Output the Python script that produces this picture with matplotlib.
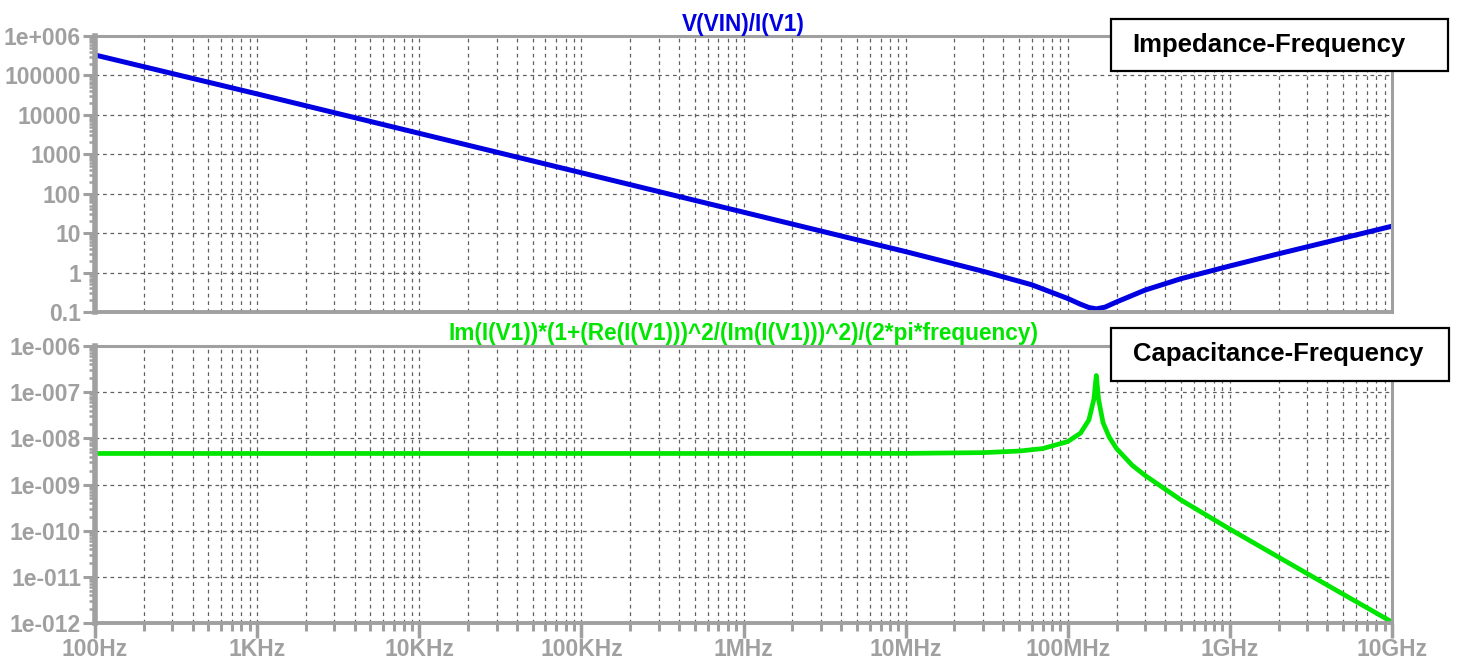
import matplotlib
matplotlib.use("Agg")
import matplotlib.pyplot as plt
from matplotlib.patches import Rectangle
from matplotlib.ticker import FixedLocator, NullFormatter
import numpy as np

# frequency axis (Hz)
x_ticks = [1e2, 1e3, 1e4, 1e5, 1e6, 1e7, 1e8, 1e9, 1e10]
x_labels = ['100Hz', '1KHz', '10KHz', '100KHz', '1MHz', '10MHz', '100MHz', '1GHz', '10GHz']

# top panel: V(VIN)/I(V1)
z_freq = [1e2, 1e3, 1e4, 1e5, 1e6, 1e7, 3e7, 6e7, 1e8, 1.2e8, 1.35e8, 1.5e8,
          1.7e8, 2e8, 3e8, 5e8, 1e9, 2e9, 5e9, 1e10]
z_vals = [3.3e5, 3.4e4, 3.4e3, 340, 34, 3.4, 1.08, 0.49, 0.22, 0.157, 0.13, 0.12,
          0.133, 0.18, 0.36, 0.70, 1.47, 3.0, 7.5, 15]
z_ticks = [0.1, 1, 10, 100, 1000, 1e4, 1e5, 1e6]
z_labels = ['0.1', '1', '10', '100', '1000', '10000', '100000', '1e+006']

# bottom panel: effective capacitance
c_freq = [1e2, 1e3, 1e4, 1e5, 1e6, 1e7, 3e7, 5e7, 7e7, 1e8, 1.2e8, 1.35e8, 1.45e8,
          1.5e8, 1.55e8, 1.65e8, 1.8e8, 2e8, 2.5e8, 3e8, 5e8, 1e9, 2e9, 5e9, 1e10]
c_vals = [4.7e-9, 4.7e-9, 4.7e-9, 4.7e-9, 4.7e-9, 4.72e-9, 4.9e-9, 5.3e-9, 6.0e-9,
          8.5e-9, 1.3e-8, 2.5e-8, 7.1e-8, 2.3e-7, 6.9e-8, 2.2e-8, 1.07e-8, 6e-9,
          2.6e-9, 1.57e-9, 4.6e-10, 1.08e-10, 2.66e-11, 4.2e-12, 1.05e-12]
c_ticks = [1e-12, 1e-11, 1e-10, 1e-9, 1e-8, 1e-7, 1e-6]
c_labels = ['1e-012', '1e-011', '1e-010', '1e-009', '1e-008', '1e-007', '1e-006']

GRAY = '#a0a0a0'
GRID = '#606060'
W, H = 1458, 664

fig = plt.figure(figsize=(W / 100, H / 100), dpi=100)
plt.rcParams['font.family'] = ['Liberation Sans', 'DejaVu Sans']


def box(px0, py0, px1, py1):
    return [px0 / W, 1 - py1 / H, (px1 - px0) / W, (py1 - py0) / H]


def style(ax, yticks, ylabels, show_x):
    ax.set_xscale('log')
    ax.set_yscale('log')
    ax.set_xlim(1e2, 1e10)
    ax.set_ylim(yticks[0], yticks[-1])
    for s in ax.spines.values():
        s.set_color(GRAY)
        s.set_linewidth(2.2)
    ax.spines['left'].set_linewidth(4.0)
    ax.spines['bottom'].set_linewidth(2.8)
    ax.yaxis.set_major_locator(FixedLocator(yticks))
    ax.set_yticklabels(ylabels)
    ax.yaxis.set_minor_locator(matplotlib.ticker.LogLocator(base=10, subs=np.arange(2, 10)))
    ax.yaxis.set_minor_formatter(NullFormatter())
    ax.xaxis.set_major_locator(FixedLocator(x_ticks))
    ax.xaxis.set_minor_locator(matplotlib.ticker.LogLocator(base=10, subs=np.arange(2, 10), numticks=20))
    ax.xaxis.set_minor_formatter(NullFormatter())
    ax.tick_params(axis='y', which='major', direction='out', length=9, width=2.2,
                   color=GRAY, labelcolor=GRAY, labelsize=16.5, pad=1)
    ax.tick_params(axis='y', which='minor', direction='out', length=4, width=1.8, color=GRAY)
    if show_x:
        ax.set_xticklabels(x_labels)
        ax.tick_params(axis='x', which='major', direction='out', length=11, width=2.5,
                       color=GRAY, labelcolor=GRAY, labelsize=16.5, pad=0)
        ax.tick_params(axis='x', which='minor', direction='out', length=6, width=2.2, color=GRAY)
    else:
        ax.tick_params(axis='x', which='both', length=0, labelbottom=False)
    for lab in ax.get_yticklabels() + ax.get_xticklabels():
        lab.set_fontweight('bold')
    ax.grid(True, which='major', axis='both', color=GRID, linestyle=(0, (3, 3)), linewidth=0.9)
    ax.grid(True, which='minor', axis='x', color=GRID, linestyle=(0, (3, 3)), linewidth=0.9)
    ax.set_axisbelow(True)


ax1 = fig.add_axes(box(95, 36, 1392, 312))
ax1.plot(z_freq, z_vals, color='#0000e0', linewidth=3.6, solid_capstyle='round')
style(ax1, z_ticks, z_labels, False)
ax1.set_title('V(VIN)/I(V1)', color='#0000e0', fontsize=16.3, fontweight='bold', pad=2)

ax2 = fig.add_axes(box(95, 346, 1392, 623))
ax2.plot(c_freq, c_vals, color='#00e600', linewidth=3.4, solid_capstyle='round')
style(ax2, c_ticks, c_labels, True)
ax2.set_title('Im(I(V1))*(1+(Re(I(V1)))^2/(Im(I(V1)))^2)/(2*pi*frequency)',
              color='#00e600', fontsize=16.3, fontweight='bold', pad=4)

# labelled boxes
for (x0, y0, x1, y1), txt, dx in [((1111, 19, 1448, 71), 'Impedance-Frequency', -11),
                                  ((1111, 328, 1449, 381), 'Capacitance-Frequency', -2)]:
    fig.patches.append(Rectangle((x0 / W, 1 - y1 / H), (x1 - x0) / W, (y1 - y0) / H,
                                 transform=fig.transFigure, facecolor='white',
                                 edgecolor='black', linewidth=1.6, zorder=5))
    fig.text(((x0 + x1) / 2 + dx) / W, 1 - (y0 + y1) / 2 / H, txt, ha='center', va='center',
             fontsize=18.5, fontweight='bold', color='black', zorder=6)

fig.savefig('out.png', dpi=100)
